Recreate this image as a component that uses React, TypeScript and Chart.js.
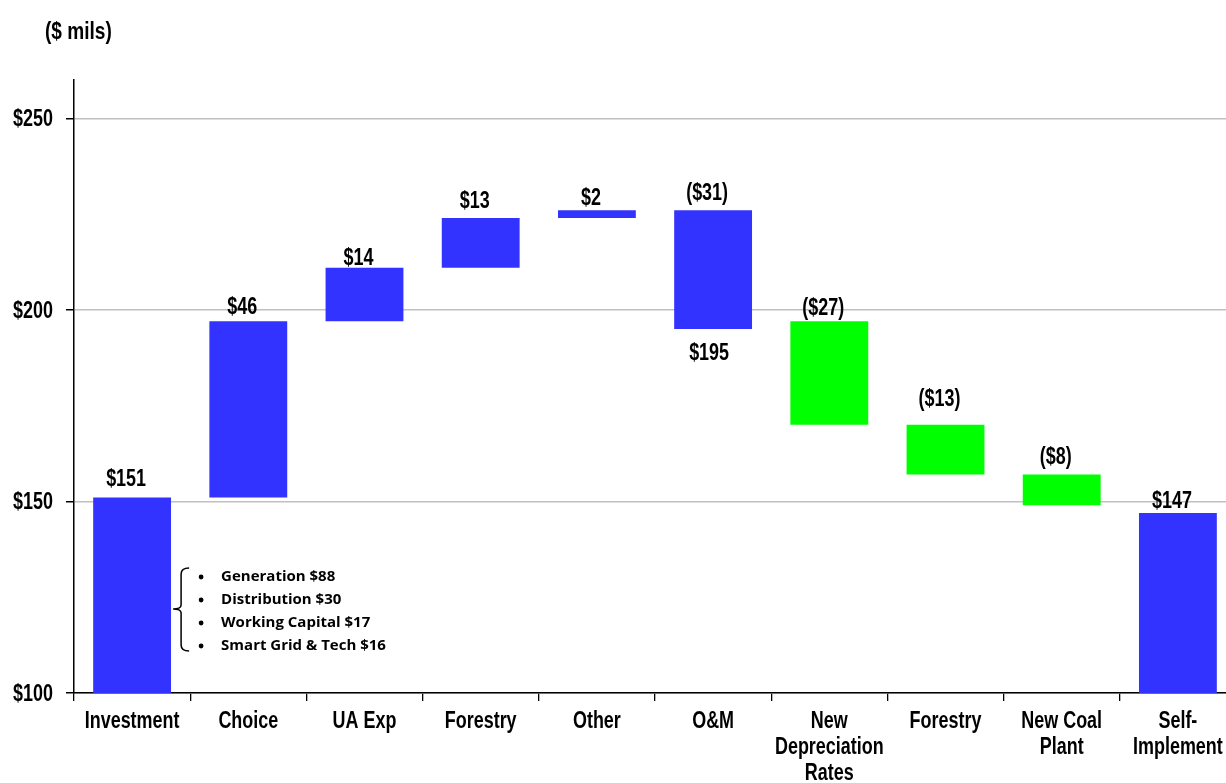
import React, { useEffect, useRef } from "react";
import { Chart, registerables } from "chart.js";

Chart.register(...registerables);

// ---------- data ----------
const categories: (string | string[])[] = [
  "Investment",
  "Choice",
  "UA Exp",
  "Forestry",
  "Other",
  "O&M",
  ["New", "Depreciation", "Rates"],
  "Forestry",
  ["New Coal", "Plant"],
  ["Self-", "Implement"],
];
const barLow = [100, 151, 197, 211, 224, 195, 170, 157, 149, 100];
const barHigh = [151, 197, 211, 224, 226, 226, 197, 170, 157, 147];
const valueLabels = ["$151", "$46", "$14", "$13", "$2", "($31)", "($27)", "($13)", "($8)", "$147"];
const belowLabels = ["", "", "", "", "", "$195", "", "", "", ""];
const yTicks = [100, 150, 200, 250];
const breakdown = ["Generation $88", "Distribution $30", "Working Capital $17", "Smart Grid & Tech $16"];
const unitLabel = "($ mils)";

// ---------- styles ----------
const BLUE = "#3333FF";
const GREEN = "#00FF00";
const barColors = [BLUE, BLUE, BLUE, BLUE, BLUE, BLUE, GREEN, GREEN, GREEN, BLUE];
const labelLift = [20, 15, 11, 18, 13, 18, 14, 27, 19, 13];
const FONT = "bold 23px 'Liberation Sans', Arial, sans-serif";
const SQUEEZE = 0.78;

function narrowText(ctx: CanvasRenderingContext2D, text: string, x: number, y: number, align: CanvasTextAlign, sx = SQUEEZE) {
  ctx.save();
  ctx.translate(x, y);
  ctx.scale(sx, 1);
  ctx.textAlign = align;
  ctx.textBaseline = "alphabetic";
  ctx.fillText(text, 0, 0);
  ctx.restore();
}

const overlayPlugin = {
  id: "overlay",
  afterDraw(chart: any) {
    const ctx: CanvasRenderingContext2D = chart.ctx;
    const meta = chart.getDatasetMeta(0);
    const yS = chart.scales.y;
    const xS = chart.scales.x;
    ctx.save();
    ctx.fillStyle = "#000";
    ctx.font = FONT;

    // value labels
    meta.data.forEach((bar: any, i: number) => {
      const top = yS.getPixelForValue(barHigh[i]);
      const bottom = yS.getPixelForValue(barLow[i]);
      narrowText(ctx, valueLabels[i], bar.x - 6, top - labelLift[i] + 8, "center");
      if (belowLabels[i]) narrowText(ctx, belowLabels[i], bar.x - 4, bottom + 31, "center");
    });

    // y tick labels
    yS.ticks.forEach((t: any, i: number) => {
      const y = yS.getPixelForTick(i);
      narrowText(ctx, "$" + t.value, yS.right - 21, y + 8, "right");
    });

    // x tick labels
    categories.forEach((c, i) => {
      const x = xS.getPixelForTick(i);
      const lines = Array.isArray(c) ? c : [c];
      lines.forEach((ln, k) => {
        narrowText(ctx, ln, x, xS.top + 35 + k * 26, "center");
      });
    });

    // unit label
    narrowText(ctx, unitLabel, 45, 39, "left", 0.83);

    // breakdown bracket + bullet list
    const x0 = xS.getPixelForValue(0);
    const bx = x0 + 49;
    const top = 568;
    const bot = 651;
    const mid = 609;
    ctx.strokeStyle = "#000";
    ctx.lineWidth = 1.5;
    ctx.beginPath();
    ctx.moveTo(bx + 8, top);
    ctx.quadraticCurveTo(bx, top, bx, top + 6);
    ctx.lineTo(bx, mid - 4);
    ctx.quadraticCurveTo(bx, mid, bx - 8, mid);
    ctx.quadraticCurveTo(bx, mid, bx, mid + 4);
    ctx.lineTo(bx, bot - 6);
    ctx.quadraticCurveTo(bx, bot, bx + 8, bot);
    ctx.stroke();
    ctx.font = "bold 15px 'Open Sans', sans-serif";
    ctx.textBaseline = "middle";
    ctx.textAlign = "left";
    breakdown.forEach((t, i) => {
      const y = 577 + i * 23;
      ctx.beginPath();
      ctx.arc(bx + 20, y, 2.4, 0, Math.PI * 2);
      ctx.fill();
      ctx.fillText(t, bx + 40, y);
    });
    ctx.restore();
  },
};

export default function App() {
  const ref = useRef<HTMLCanvasElement>(null);
  useEffect(() => {
    if (!ref.current) return;
    const chart = new Chart(ref.current, {
      type: "bar",
      data: {
        labels: categories,
        datasets: [
          {
            data: barLow.map((l, i) => [l, barHigh[i]]) as any,
            backgroundColor: barColors,
            borderWidth: 0,
            barPercentage: 0.67,
            categoryPercentage: 1,
          },
        ],
      },
      options: {
        responsive: false,
        animation: false,
        layout: { padding: { top: 80, left: 0, right: 0, bottom: 0 } },
        plugins: { legend: { display: false }, tooltip: { enabled: false } },
        scales: {
          x: {
            grid: {
              offset: true,
              drawOnChartArea: false,
              drawTicks: true,
              tickLength: 8,
              color: "#000",
              lineWidth: 1.3,
            },
            border: { color: "#000", width: 1.5 },
            ticks: { display: false, autoSkip: false },
            afterFit: (s: any) => {
              s.height = 90;
            },
          },
          y: {
            min: 100,
            max: 260,
            afterBuildTicks: (axis: any) => {
              axis.ticks = yTicks.map((v) => ({ value: v }));
            },
            grid: {
              color: "#C0C0C0",
              lineWidth: 1.5,
              tickColor: "#000",
              tickLength: 8,
            },
            border: { color: "#000", width: 1.5 },
            ticks: { display: false },
            afterFit: (s: any) => {
              s.width = 74;
            },
          },
        },
      },
      plugins: [overlayPlugin],
    });
    return () => chart.destroy();
  }, []);
  return (
    <div
      style={{
        position: "fixed",
        left: 0,
        top: 0,
        width: 1226,
        height: 783,
        overflow: "hidden",
        background: "#fff",
      }}
    >
      <canvas ref={ref} width={1236} height={783} style={{ width: 1236, height: 783, display: "block" }} />
    </div>
  );
}
